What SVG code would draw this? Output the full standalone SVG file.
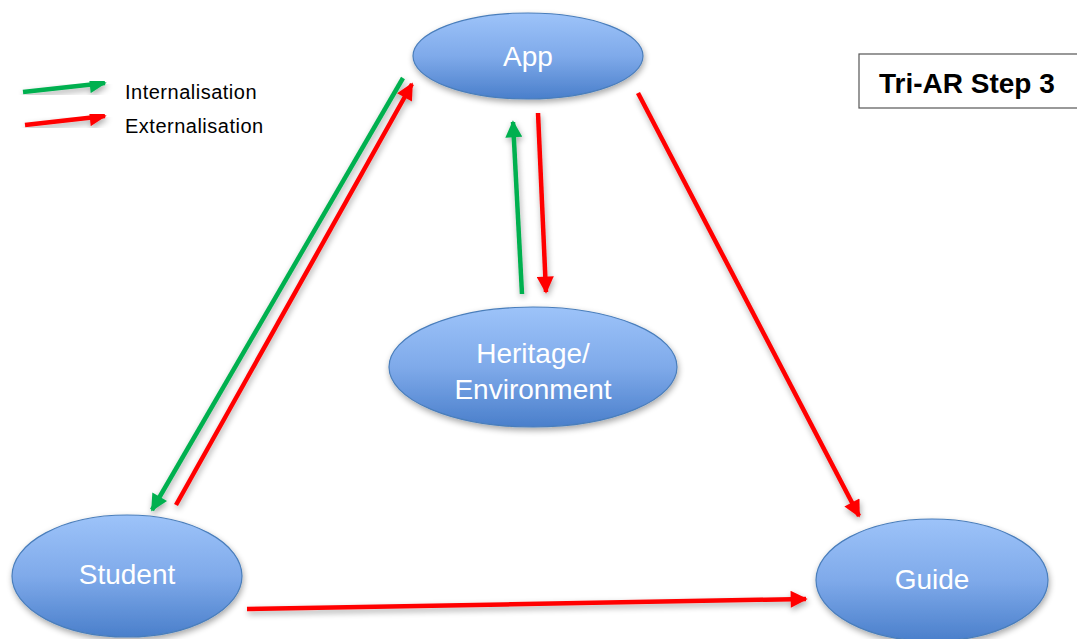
<svg xmlns="http://www.w3.org/2000/svg" width="1077" height="639" viewBox="0 0 1077 639">
<defs>
<linearGradient id="g" x1="0" y1="0" x2="0" y2="1">
<stop offset="0" stop-color="#9DC3F9"/>
<stop offset="0.5" stop-color="#7FAAEA"/>
<stop offset="1" stop-color="#4A7FCB"/>
</linearGradient>
<filter id="sh" x="-20%" y="-20%" width="140%" height="150%">
<feGaussianBlur in="SourceAlpha" stdDeviation="3"/>
<feOffset dx="1" dy="3" result="b"/>
<feComponentTransfer><feFuncA type="linear" slope="0.35"/></feComponentTransfer>
<feMerge><feMergeNode/><feMergeNode in="SourceGraphic"/></feMerge>
</filter>
<marker id="ar" viewBox="0 0 10 10" refX="9" refY="5" markerWidth="19" markerHeight="17" markerUnits="userSpaceOnUse" orient="auto"><path d="M0,0 L10,5 L0,10 Z" fill="#FF0000"/></marker>
<marker id="ag" viewBox="0 0 10 10" refX="9" refY="5" markerWidth="19" markerHeight="17" markerUnits="userSpaceOnUse" orient="auto"><path d="M0,0 L10,5 L0,10 Z" fill="#00B050"/></marker>
</defs>
<style>
.node ellipse{fill:url(#g);stroke:#4A7EBB;stroke-width:1.2;filter:url(#sh)}
.node text{fill:#fff;font-family:"Liberation Sans",Arial,sans-serif;font-size:28px;text-anchor:middle}
.r{stroke:#FF0000;stroke-width:4.5;fill:none;marker-end:url(#ar)}
.gr{stroke:#00B050;stroke-width:4.5;fill:none;marker-end:url(#ag)}
.lbl{font-family:"Liberation Sans",Arial,sans-serif;font-size:20px;letter-spacing:0.5px;fill:#000}
</style>
<rect width="1077" height="639" fill="#fff"/>
<g id="legend">
<line class="gr" x1="23" y1="92" x2="105" y2="83" filter="url(#sh)"/>
<line class="r" x1="25" y1="125" x2="105" y2="116" filter="url(#sh)"/>
<text class="lbl" x="125" y="99">Internalisation</text>
<text class="lbl" x="125" y="133">Externalisation</text>
</g>
<g id="title">
<rect x="859" y="54" width="230" height="54" fill="#fff" stroke="#555" stroke-width="1.2"/>
<text x="879" y="93" font-family="Liberation Sans,Arial,sans-serif" font-size="28" font-weight="bold" fill="#000">Tri-AR Step 3</text>
</g>
<g id="connectors" filter="url(#sh)">
<line class="gr" x1="403" y1="78" x2="152" y2="510"/>
<line class="r" x1="176" y1="505" x2="412" y2="84"/>
<line class="gr" x1="522" y1="294" x2="513" y2="122"/>
<line class="r" x1="538" y1="113" x2="546" y2="292"/>
<line class="r" x1="638" y1="93" x2="859" y2="516"/>
<line class="r" x1="247" y1="609" x2="806" y2="599"/>
</g>
<g id="app" class="node">
<ellipse cx="528" cy="56" rx="115" ry="43"/>
<text x="528" y="66">App</text>
</g>
<g id="heritage" class="node">
<ellipse cx="533" cy="367" rx="144" ry="60"/>
<text x="533" y="363">Heritage/</text>
<text x="533" y="399">Environment</text>
</g>
<g id="student" class="node">
<ellipse cx="127" cy="576" rx="115" ry="61"/>
<text x="127" y="584">Student</text>
</g>
<g id="guide" class="node">
<ellipse cx="932" cy="580" rx="116" ry="61"/>
<text x="932" y="589">Guide</text>
</g>
</svg>
